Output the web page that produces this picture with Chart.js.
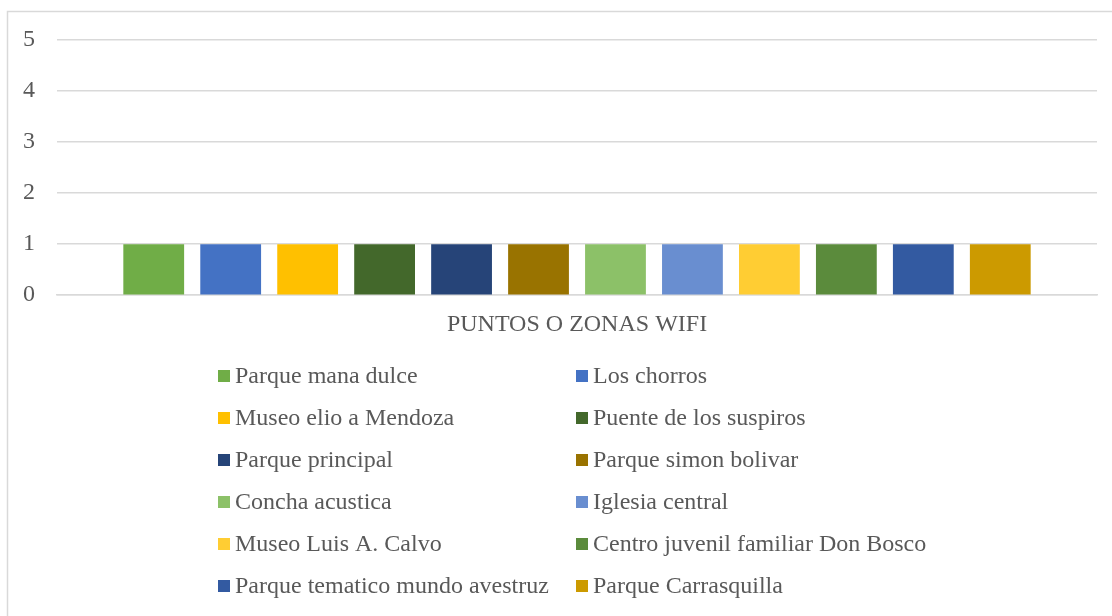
<!DOCTYPE html>
<html>
<head>
<meta charset="utf-8">
<script src="https://cdn.jsdelivr.net/npm/chart.js@4.4.0/dist/chart.umd.min.js"></script>
<style>
  html, body { margin: 0; padding: 0; background: #fff; }
  #wrap { width: 1112px; height: 616px; position: relative; }
</style>
</head>
<body>
<div id="wrap"><canvas id="grafico" width="1112" height="616"></canvas></div>
<script>
const categorias = ['PUNTOS O ZONAS WIFI'];
const zonas = [
    'Parque mana dulce', 'Los chorros',
    'Museo elio a Mendoza', 'Puente de los suspiros',
    'Parque principal', 'Parque simon bolivar',
    'Concha acustica', 'Iglesia central',
    'Museo Luis A. Calvo', 'Centro juvenil familiar Don Bosco',
    'Parque tematico mundo avestruz', 'Parque Carrasquilla'
];
const valores = [1, 1, 1, 1, 1, 1, 1, 1, 1, 1, 1, 1];
const colores = [
    '#70AD47', '#4472C4', '#FFC000', '#43682B', '#264478', '#997300',
    '#8CC168', '#698ED0', '#FFCD33', '#5B8B3C', '#335AA1', '#CC9A00'
];

const gris = '#595959';
const fuente = '"Liberation Serif", "Times New Roman", serif';

// borde exterior del grafico
const bordePlugin = {
    id: 'borde',
    beforeDraw(chart) {
        const ctx = chart.ctx;
        ctx.save();
        ctx.fillStyle = '#fff';
        ctx.fillRect(0, 0, chart.width, chart.height);
        ctx.strokeStyle = '#d9d9d9';
        ctx.lineWidth = 1.5;
        ctx.strokeRect(7.5, 11.5, 1200, 700);
        ctx.restore();
    }
};

// leyenda en dos columnas
const leyendaPlugin = {
    id: 'leyenda',
    afterDraw(chart) {
        const ctx = chart.ctx;
        const colX = [218, 576];
        const y0 = 376, paso = 42;
        ctx.save();
        ctx.font = '24px ' + fuente;
        ctx.textBaseline = 'middle';
        ctx.textAlign = 'left';
        chart.data.datasets.forEach((ds, i) => {
            const x = colX[i % 2];
            const y = y0 + paso * Math.floor(i / 2);
            ctx.fillStyle = ds.backgroundColor;
            ctx.fillRect(x, y - 6, 12, 12);
            ctx.fillStyle = gris;
            ctx.fillText(ds.label, x + 17, y + 1);
        });
        ctx.restore();
    }
};

const datasets = zonas.map((nombre, i) => ({
    label: nombre,
    data: [valores[i]],
    backgroundColor: colores[i],
    borderWidth: 0,
    categoryPercentage: 0.888,
    barPercentage: 0.79
}));

new Chart(document.getElementById('grafico'), {
    type: 'bar',
    data: { labels: categorias, datasets: datasets },
    options: {
        responsive: false,
        animation: false,
        layout: { padding: { left: 1, right: 15, top: 40, bottom: 262 } },
        plugins: {
            legend: { display: false },
            tooltip: { enabled: false }
        },
        scales: {
            x: {
                grid: { display: false, drawTicks: false },
                border: { display: true, color: '#d9d9d9', width: 1.5 },
                ticks: { color: gris, font: { family: fuente, size: 24 }, padding: 15 }
            },
            y: {
                min: 0,
                max: 5,
                ticks: { stepSize: 1, color: gris, font: { family: fuente, size: 24 }, padding: 22 },
                grid: { color: '#d9d9d9', lineWidth: 1.5, drawTicks: false },
                border: { display: false }
            }
        }
    },
    plugins: [bordePlugin, leyendaPlugin]
});
</script>
</body>
</html>
